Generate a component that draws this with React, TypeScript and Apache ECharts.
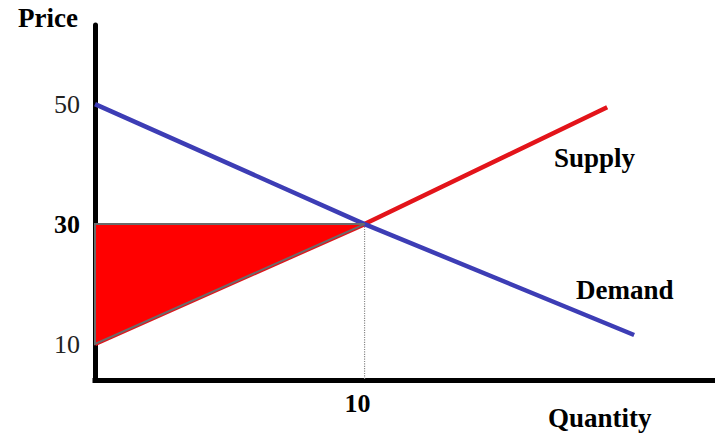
import React, { useEffect, useRef } from "react";
import * as echarts from "echarts";

// Demand and supply curves (quantity, price)
const demandQty = [0, 10, 20];
const demandPrice = [50, 30, 11.5];
const supplyQty = [0, 10, 19];
const supplyPrice = [10, 30, 49.5];
// Shaded producer-surplus triangle
const surplusQty = [0, 10, 0];
const surplusPrice = [30, 30, 10];
// Equilibrium
const eqQty = 10;
const eqPrice = 30;
// Tick labels
const priceTicks = [10, 30, 50];
const qtyTicks = [10];
const priceMin = 4;
const priceMax = 63.2;
const qtyMax = 23;

const FONT = "'Liberation Serif', 'Times New Roman', serif";

const zip = (a: number[], b: number[]) => a.map((v, i) => [v, b[i]]);

export default function App() {
  const ref = useRef<HTMLDivElement>(null);
  useEffect(() => {
    document.body.style.margin = "0";
    if (!ref.current) return;
    const chart = echarts.init(ref.current, undefined, { renderer: "svg" });
    const surplusPts = zip(surplusQty, surplusPrice);
    chart.setOption({
      animation: false,
      backgroundColor: "#ffffff",
      grid: { left: 95, right: 0, top: 25, bottom: 56 },
      xAxis: {
        type: "value",
        min: 0,
        max: qtyMax,
        axisLine: { show: true, lineStyle: { color: "#000", width: 5, cap: "square" } },
        axisTick: { show: false },
        splitLine: { show: false },
        axisLabel: {
          customValues: qtyTicks,
          fontFamily: FONT,
          fontWeight: "bold",
          fontSize: 26,
          color: "#000",
          margin: 10,
          padding: [0, 14, 0, 0],
        },
      },
      yAxis: {
        type: "value",
        min: priceMin,
        max: priceMax,
        axisLine: { show: true, lineStyle: { color: "#000", width: 5 } },
        axisTick: { show: false },
        splitLine: { show: false },
        axisLabel: {
          customValues: priceTicks,
          margin: 15,
          formatter: (v: number) => (v === eqPrice ? `{b|${v}}` : `{n|${v}}`),
          rich: {
            b: { fontFamily: FONT, fontWeight: "bold", fontSize: 26, color: "#000" },
            n: { fontFamily: FONT, fontWeight: "normal", fontSize: 26, color: "#222" },
          },
        },
      },
      series: [
        {
          type: "line",
          data: [
            [eqQty, eqPrice],
            [eqQty, priceMin],
          ],
          symbol: "none",
          lineStyle: { color: "#8a8a8a", width: 1.2, type: "dotted" },
          z: 1,
        },
        {
          name: "Supply",
          type: "line",
          data: zip(supplyQty, supplyPrice),
          symbol: "none",
          lineStyle: { color: "#e3141a", width: 4.5 },
          z: 2,
        },
        {
          name: "Demand",
          type: "line",
          data: zip(demandQty, demandPrice),
          symbol: "none",
          lineStyle: { color: "#3d3db5", width: 4.5 },
          z: 3,
        },
        {
          type: "custom",
          data: [[0, 0]],
          z: 4,
          renderItem: (_params: any, api: any) => ({
            type: "polygon",
            shape: { points: surplusPts.map((p) => api.coord(p)) },
            style: { fill: "#ff0000", stroke: "#6a6a6a", lineWidth: 2 },
          }),
        },
      ],
      graphic: [
        {
          type: "text",
          left: 18,
          top: 4,
          style: { text: "Price", font: `bold 27px ${FONT}`, fill: "#000" },
        },
        {
          type: "text",
          x: 554,
          y: 158,
          style: { text: "Supply", font: `bold 27px ${FONT}`, fill: "#000", verticalAlign: "middle" },
        },
        {
          type: "text",
          x: 576,
          y: 290,
          style: { text: "Demand", font: `bold 27px ${FONT}`, fill: "#000", verticalAlign: "middle" },
        },
        {
          type: "text",
          x: 548,
          y: 418,
          style: { text: "Quantity", font: `bold 27px ${FONT}`, fill: "#000", verticalAlign: "middle" },
        },
      ],
    });
    return () => chart.dispose();
  }, []);
  return <div ref={ref} style={{ width: 715, height: 436 }} />;
}
